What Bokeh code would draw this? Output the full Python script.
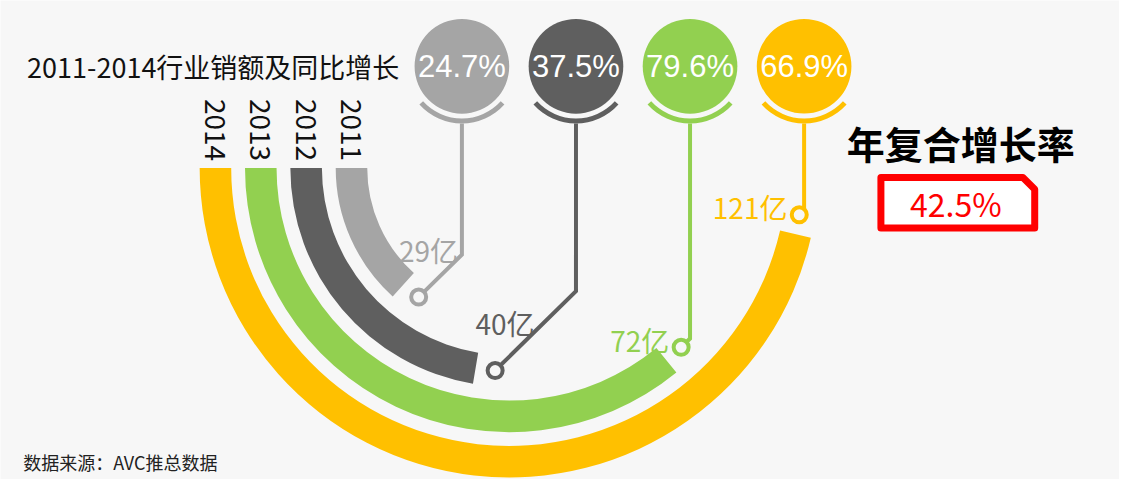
import numpy as np
from bokeh.plotting import figure
from bokeh.models import Range1d
from bokeh.core.properties import value
from bokeh.embed import file_html
from bokeh.resources import INLINE

# ---------------- data ----------------
years = ["2011", "2012", "2013", "2014"]
sales = [29, 40, 72, 121]                      # 亿元
sales_labels = ["29亿", "40亿", "72亿", "121亿"]
growth = [24.7, 37.5, 79.6, 66.9]              # 同比增长 %
growth_labels = ["24.7%", "37.5%", "79.6%", "66.9%"]
cagr = 42.5
cagr_label = "42.5%"
title_text = "2011-2014行业销额及同比增长"
cagr_title = "年复合增长率"
source_note = "数据来源：AVC推总数据"
colors = ["#a5a5a5", "#5f5f5f", "#92d050", "#ffc000"]

# ---------------- layout ----------------
W, H = 1119, 479
RW, RH = 1135, 495          # design canvas
BG = "#f7f7f7"
CJK = value("Noto Sans CJK SC")
K = (W / RW) / (H / RH)     # screen aspect correction for y offsets


def Y(s):
    # design-canvas row -> data y (y axis points up)
    return RH - s


p = figure(width=W, height=H, x_range=Range1d(0, RW), y_range=Range1d(0, RH),
           output_backend="svg", toolbar_location=None,
           x_axis_location=None, y_axis_location=None, min_border=0)
p.grid.visible = False
p.outline_line_color = None
p.background_fill_color = BG
p.border_fill_color = BG

# radial bars: sweep angle from a shifted-log scale of the sales values
CX, CY = 516, Y(173)
R_OUT0, R_STEP, THICK = 176, 46, 32
vals = np.array(sales, dtype=float)
sweep = 62.4 * np.log(vals - 13) - 125.2        # degrees

r_out = np.array([R_OUT0 + R_STEP * i for i in range(len(years))], dtype=float)
r_in = r_out - THICK
r_mid = (r_out + r_in) / 2
start = np.full(len(years), 180.0)
end = 180.0 + sweep

p.annular_wedge(x=[CX] * 4, y=[CY] * 4, inner_radius=list(r_in), outer_radius=list(r_out),
                start_angle=list(start), end_angle=list(end), start_angle_units="deg",
                end_angle_units="deg", direction="anticlock",
                fill_color=colors, line_color=None)

# year labels above the start of each arc
p.text(x=list(CX - r_mid), y=[Y(166)] * 4, text=years, angle=-90, angle_units="deg",
       text_align="right", text_baseline="middle", text_font=CJK,
       text_font_size="28px", text_color="#111111")

# pins with growth rates
PX0, PSTEP = 468, 115.7
PIN_Y, PIN_R = Y(68), 48
CUP_IN, CUP_OUT = 53, 58
px = np.array([PX0 + PSTEP * i for i in range(4)])

p.circle(x=list(px), y=[PIN_Y] * 4, radius=PIN_R, fill_color=colors, line_color=None)
p.annular_wedge(x=list(px), y=[PIN_Y] * 4, inner_radius=CUP_IN, outer_radius=CUP_OUT,
                start_angle=222, end_angle=318, start_angle_units="deg", end_angle_units="deg",
                fill_color=colors, line_color=None)
p.text(x=list(px), y=[PIN_Y] * 4, text=growth_labels, text_align="center",
       text_baseline="middle", text_font=value("Liberation Sans"),
       text_font_size="31px", text_color="white")

# connector lines from pins to arc ends
theta = np.radians(end) + 20.0 / r_mid
rx = CX + r_mid * np.cos(theta)
ry = CY + r_mid * np.sin(theta) * K
xs, ys = [], []
for i in range(4):
    top = PIN_Y - CUP_OUT * K
    d = px[i] - rx[i]
    by = ry[i] + d if d > 2 else ry[i]
    xs.append([px[i], px[i], rx[i]])
    ys.append([top, by, ry[i]])
p.multi_line(xs=xs, ys=ys, line_color=colors, line_width=4, line_join="miter")
p.scatter(x=list(rx), y=list(ry), marker="circle", size=15, fill_color=BG,
          line_color=colors, line_width=4)

# value labels
for i in range(4):
    d = px[i] - rx[i]
    if d > 30:
        p.text(x=[rx[i] + 40], y=[ry[i] + 28], text=[sales_labels[i]], text_align="right",
               text_baseline="bottom", text_font=CJK, text_font_size="28px",
               text_color=colors[i])
    else:
        p.text(x=[rx[i] - 12], y=[ry[i] + 8], text=[sales_labels[i]], text_align="right",
               text_baseline="middle", text_font=CJK, text_font_size="28px",
               text_color=colors[i])

# title
p.text(x=[27], y=[Y(68)], text=[title_text], text_align="left", text_baseline="middle",
       text_font=CJK, text_font_size="27px", text_color="#111111")

# CAGR block
BX, BY, BW, BH, CUT = 971, Y(209), 156, 52, 12
p.text(x=[BX + 3], y=[Y(147)], text=[cagr_title], text_align="center", text_baseline="middle",
       text_font=CJK, text_font_style="bold", text_font_size="38px", text_color="#000000")
bx = [BX - BW / 2, BX + BW / 2 - CUT, BX + BW / 2, BX + BW / 2, BX - BW / 2]
by_ = [BY + BH / 2, BY + BH / 2, BY + BH / 2 - CUT, BY - BH / 2, BY - BH / 2]
p.patch(x=bx, y=by_, fill_color="white", line_color="#ff0000", line_width=7, line_join="round")
p.text(x=[BX - 2], y=[BY], text=[cagr_label], text_align="center", text_baseline="middle",
       text_font=CJK, text_font_size="32px", text_color="#ff0000")

# source note
p.text(x=[23], y=[Y(477)], text=[source_note], text_align="left", text_baseline="middle",
       text_font=CJK, text_font_size="18px", text_color="#222222")

open("out.html", "w").write(file_html(p, INLINE))
